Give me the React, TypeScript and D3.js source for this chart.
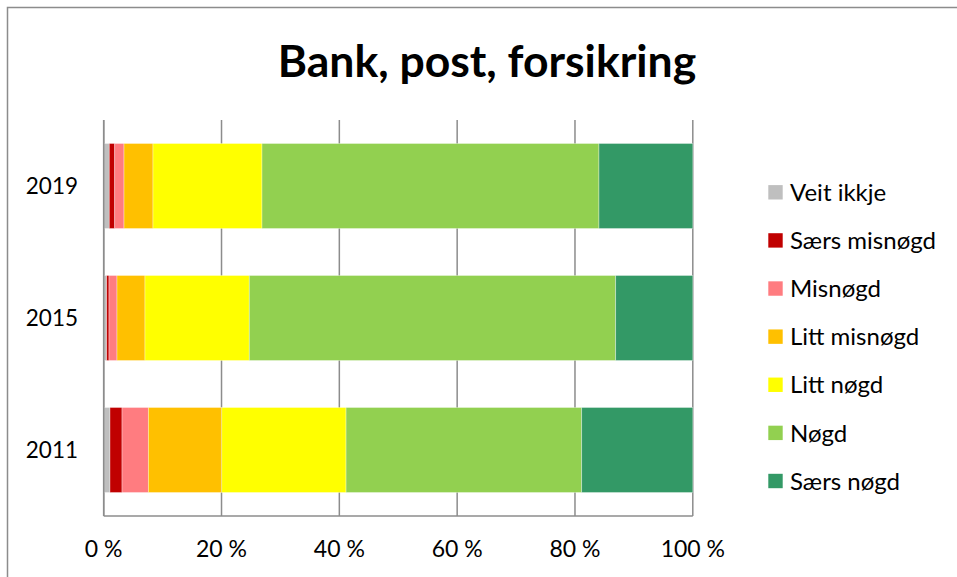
import React from "react";
import * as d3 from "d3";

const years = ["2019", "2015", "2011"];
const seriesNames = ["Veit ikkje", "Særs misnøgd", "Misnøgd", "Litt misnøgd", "Litt nøgd", "Nøgd", "Særs nøgd"];
const seriesColors = ["#BFBFBF", "#C00000", "#FF7C80", "#FFC000", "#FFFF00", "#92D050", "#339966"];
const v2019 = [0.95, 0.92, 1.58, 4.92, 18.5, 57.2, 15.93];
const v2015 = [0.5, 0.4, 1.36, 4.75, 17.7, 62.2, 13.09];
const v2011 = [1.07, 2.04, 4.47, 12.46, 21.1, 40.0, 18.86];
const xTicks = [0, 20, 40, 60, 80, 100];
const title = "Bank, post, forsikring";

const W = 957;
const H = 577;
const FONT = "Lato, 'Open Sans', sans-serif";

export default function App() {
  const values: Record<string, number[]> = { "2019": v2019, "2015": v2015, "2011": v2011 };
  const x = d3.scaleLinear().domain([0, 100]).range([103.7, 692.8]);
  const y = d3.scaleBand().domain(years).range([120, 516]).paddingInner(0.356).paddingOuter(0.178);
  const legendY = d3.scalePoint().domain(seriesNames).range([192.3, 481]);

  const rows = years.map((yr) => {
    const vals = values[yr];
    const total = d3.sum(vals);
    let acc = 0;
    const segs = vals.map((v, i) => {
      const start = acc;
      acc += (v / total) * 100;
      return { i, start, end: acc };
    });
    return { yr, segs };
  });

  return (
    <svg width={W} height={H} style={{ position: "absolute", left: 0, top: 0, background: "#fff" }}>
      <rect x={0} y={0} width={W} height={H} fill="#fff" />
      <rect x={7.5} y={7.5} width={W + 20} height={H + 20} fill="none" stroke="#8c8c8c" strokeWidth={1.5} />
      <text x={487} y={77} textAnchor="middle" fontFamily={FONT} fontWeight={700} fontSize={44.5} fill="#000">
        {title}
      </text>
      {xTicks.map((t) => (
        <line key={"g" + t} x1={x(t)} x2={x(t)} y1={120} y2={516} stroke="#8c8c8c" strokeWidth={1.5} />
      ))}
      {rows.map((r) =>
        r.segs.map((s) => (
          <rect
            key={r.yr + s.i}
            x={x(s.start)}
            y={y(r.yr)!}
            width={x(s.end) - x(s.start)}
            height={y.bandwidth()}
            fill={seriesColors[s.i]}
            stroke="#ffffff"
            strokeOpacity={0.45}
            strokeWidth={0.75}
          />
        ))
      )}
      <line x1={x(0)} x2={x(100)} y1={516} y2={516} stroke="#8c8c8c" strokeWidth={1.5} />
      <line x1={x(0)} x2={x(0)} y1={120} y2={516} stroke="#8c8c8c" strokeWidth={1.5} />
      {years.map((yr) => (
        <text key={"yl" + yr} x={78} y={y(yr)! + y.bandwidth() / 2} dy="0.36em" textAnchor="end" fontFamily={FONT} fontSize={22.5} fill="#000">
          {yr}
        </text>
      ))}
      {xTicks.map((t) => (
        <text key={"xl" + t} x={x(t)} y={557} textAnchor="middle" fontFamily={FONT} fontSize={23} fill="#000">
          {t + " %"}
        </text>
      ))}
      {seriesNames.map((n, i) => (
        <g key={"lg" + n} transform={`translate(0,${legendY(n)})`}>
          <rect x={768.3} y={-7.2} width={14.4} height={14.4} fill={seriesColors[i]} />
          <text x={790} y={0} dy="0.36em" fontFamily={FONT} fontSize={24} fill="#000">
            {n}
          </text>
        </g>
      ))}
    </svg>
  );
}
